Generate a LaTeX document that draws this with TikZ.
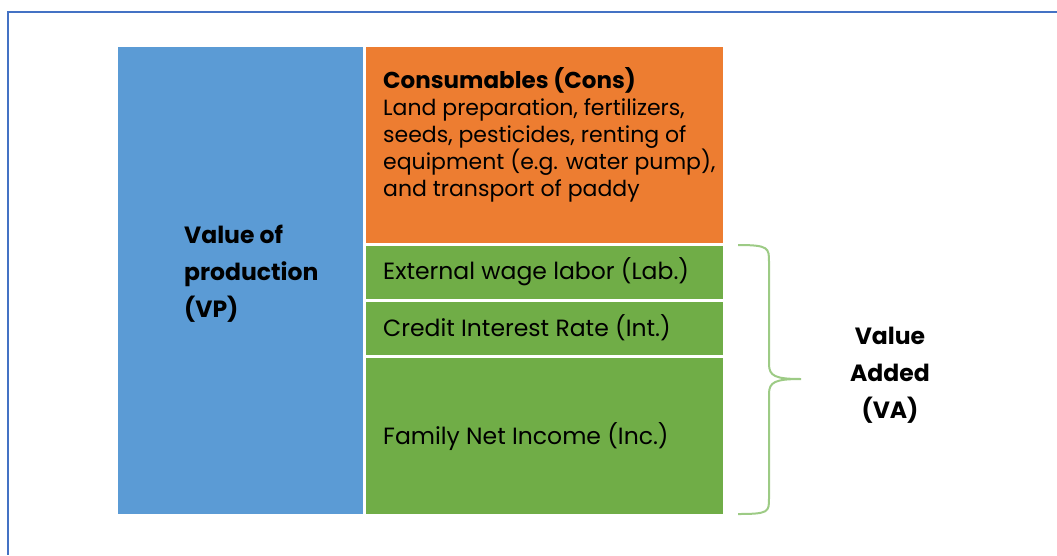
\documentclass[tikz,border=0pt]{standalone}
\usepackage{fontspec}
\setmainfont{Poppins}
\usepackage{tikz}
\usetikzlibrary{positioning}
\definecolor{vpblue}{HTML}{5B9BD5}
\definecolor{consorange}{HTML}{ED7D31}
\definecolor{vagreen}{HTML}{70AD47}
\definecolor{bracegreen}{HTML}{9DCB85}
\definecolor{framblue}{HTML}{4472C4}
\begin{document}
\begin{tikzpicture}[x=1pt,y=-1pt]
\tikzset{block/.style = {draw=white, line width=3pt, inner sep=0pt, anchor=north west},
         lbl/.style = {inner sep=0pt, align=left, font=\fontsize{22}{27}\selectfont},
         bold/.style = {inner sep=0pt, font=\fontsize{23.5}{37}\selectfont\bfseries}}
\useasboundingbox (0,0) rectangle (1057,555);
%frame
\draw[framblue, line width=2pt] (1057,12) -- (8,12) -- (8,555);
%blocks
\node[block, fill=vpblue, minimum width=248pt, minimum height=470pt] (vp) at (115,44) {};
\node[block, fill=consorange, minimum width=360pt, minimum height=199pt] (cons) at (363,44) {};
\node[block, fill=vagreen, minimum width=360pt, minimum height=56pt] (lab) at (363,242.5) {};
\node[block, fill=vagreen, minimum width=360pt, minimum height=56pt] (int) at (363,298.5) {};
\node[block, fill=vagreen, minimum width=360pt, minimum height=159pt] (inc) at (363,354.5) {};
%labels
\node[bold, align=left, anchor=west] (vptext) at (184,274) {Value of\\production\\(VP)};
\node[lbl, anchor=north west] (constext) at (383,67) {{\fontsize{23}{27}\selectfont\bfseries Consumables (Cons)}\\Land preparation, fertilizers,\\seeds, pesticides, renting of\\equipment (e.g. water pump),\\and transport of paddy};
\tikzset{lbl/.append style = {font=\fontsize{23.5}{27}\selectfont}}
\node[lbl, anchor=west] (labtext) at (383,272) {External wage labor (Lab.)};
\node[lbl, anchor=west] (inttext) at (383,328) {Credit Interest Rate (Int.)};
\node[lbl, anchor=west] (inctext) at (383,437) {Family Net Income (Inc.)};
%brace
\coordinate (btop) at (738,245);
\coordinate (btip) at (801,379);
\coordinate (bbot) at (738,514);
\draw[bracegreen, line width=2pt] (btop) .. controls (769,245) and (769,248) .. (769,262)
  -- (769,364) .. controls (769,376) and (775,379) .. (btip)
  .. controls (775,379) and (769,382) .. (769,394)
  -- (769,498) .. controls (769,512) and (769,514) .. (bbot);
\node[bold, align=center] (va) at (890,375) {Value\\Added\\(VA)};
\end{tikzpicture}
\end{document}
